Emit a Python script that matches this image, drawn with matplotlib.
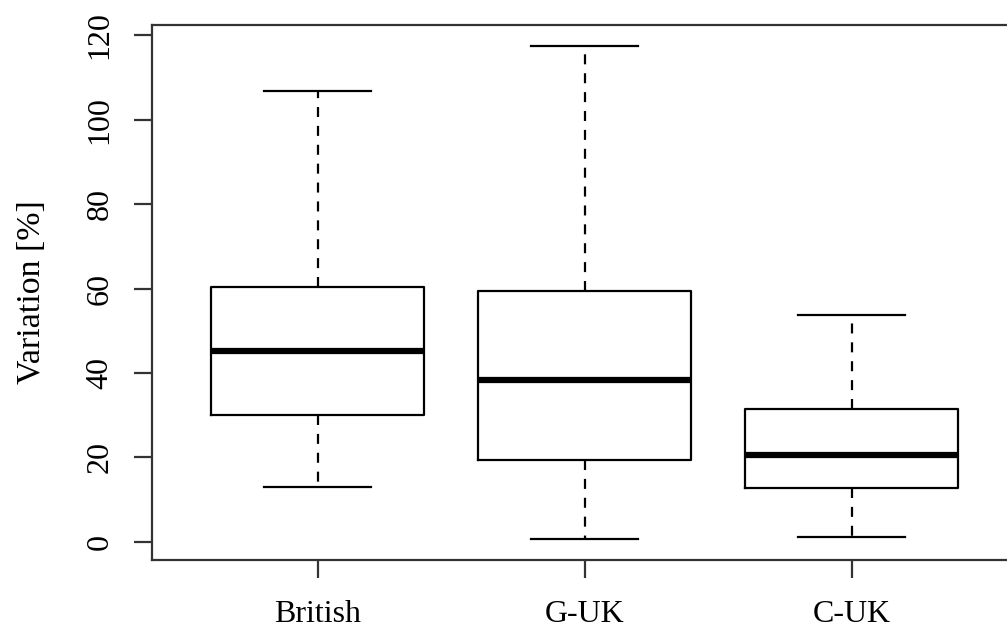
import matplotlib
matplotlib.use("Agg")
import matplotlib.pyplot as plt

plt.rcParams['font.family'] = ['Liberation Serif', 'DejaVu Serif']

groups = ["British", "G-UK", "C-UK"]
whisker_low = [13.0, 0.7, 1.2]
q1 = [30.1, 19.4, 12.8]
median = [45.2, 38.3, 20.6]
q3 = [60.4, 59.4, 31.5]
whisker_high = [106.8, 117.4, 53.7]

# stats for bxp
stats = []
for i in range(len(groups)):
    stats.append({"label": groups[i], "whislo": whisker_low[i], "q1": q1[i],
                  "med": median[i], "q3": q3[i], "whishi": whisker_high[i],
                  "fliers": []})

fig = plt.figure(figsize=(10.07, 6.32), dpi=100)
ax = fig.add_axes([0.151, 0.1139, 0.859, 0.8465])

lw = 1.6
ax.bxp(stats, positions=[1, 2, 3], widths=0.8, showfliers=False,
       boxprops=dict(color="black", linewidth=lw),
       whiskerprops=dict(color="black", linewidth=lw, linestyle=(0, (4.5, 4))),
       capprops=dict(color="black", linewidth=lw),
       medianprops=dict(color="black", linewidth=4.5, solid_capstyle="butt"),
       capwidths=0.4)

ax.set_xlim(0.38, 3.62)
ax.set_ylim(-4.3, 122.4)
ax.set_yticks([0, 20, 40, 60, 80, 100, 120])
ax.set_xticks([1, 2, 3])
ax.set_xticklabels(groups, fontsize=23)
for lab in ax.get_yticklabels():
    lab.set_rotation(90)
    lab.set_va("center")
    lab.set_fontsize(23)
ax.tick_params(axis="both", length=13, width=lw, color="#333333", pad=14)
ax.tick_params(axis="x", pad=16)
for s in ax.spines.values():
    s.set_linewidth(lw)
    s.set_color("#333333")
ax.spines["right"].set_visible(False)

ax.set_ylabel("Variation [%]", fontsize=24.5, labelpad=28)

fig.savefig("out.png", dpi=100)
